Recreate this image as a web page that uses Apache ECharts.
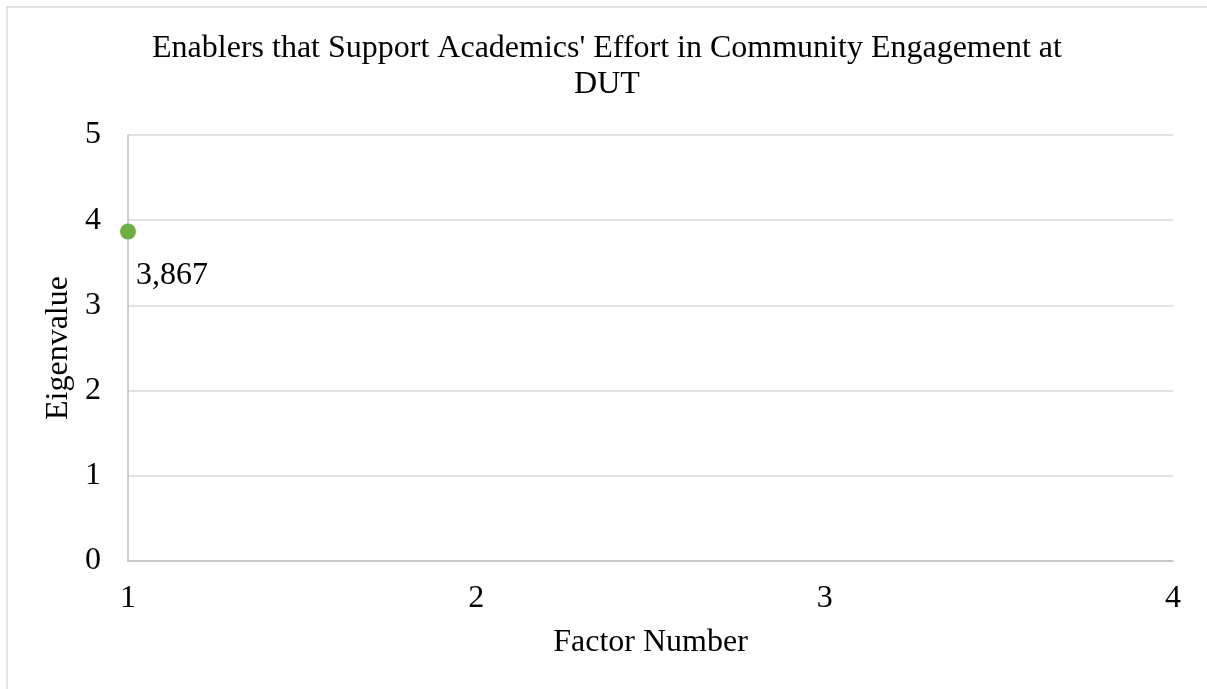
<!DOCTYPE html>
<html>
<head>
<meta charset="utf-8">
<title>Eigenvalue chart</title>
<script src="https://cdn.jsdelivr.net/npm/echarts@6/dist/echarts.min.js"></script>
<style>
  html, body { margin: 0; padding: 0; background: #fff; }
  #chart { width: 1207px; height: 689px; }
</style>
</head>
<body>
<div id="chart"></div>
<script>
// Scree data: factor numbers and their eigenvalues
const factorNumbers = [1];
const eigenvalues = [3.867];

// Axis ranges
const xRange = { min: 1, max: 4, step: 1 };
const yRange = { min: 0, max: 5, step: 1 };

const titleText = "Enablers that Support Academics' Effort in Community Engagement at\nDUT";
const xName = 'Factor Number';
const yName = 'Eigenvalue';

const serif = "'Liberation Serif', 'Times New Roman', Times, serif";
const textSize = 32;

const points = factorNumbers.map((f, i) => [f, eigenvalues[i]]);

const chart = echarts.init(document.getElementById('chart'), null, { renderer: 'canvas' });

chart.setOption({
  backgroundColor: '#ffffff',
  animation: false,
  graphic: [{
    type: 'rect',
    shape: { x: 7, y: 7, width: 1230, height: 720 },
    style: { fill: 'none', stroke: '#d9d9d9', lineWidth: 1.5 },
    silent: true,
    z: -1
  }],
  title: {
    text: titleText,
    left: 602,
    top: 26,
    textAlign: 'center',
    textStyle: {
      fontFamily: serif,
      fontSize: textSize,
      fontWeight: 'normal',
      color: '#000',
      lineHeight: 36
    }
  },
  grid: { left: 128, right: 34, top: 135, bottom: 128 },
  xAxis: {
    type: 'value',
    min: xRange.min,
    max: xRange.max,
    interval: xRange.step,
    name: xName,
    nameLocation: 'middle',
    nameGap: 66,
    nameTextStyle: { fontFamily: serif, fontSize: textSize, color: '#000' },
    axisLine: { show: true, lineStyle: { color: '#bfbfbf', width: 1.5 } },
    axisTick: { show: false },
    splitLine: { show: false },
    axisLabel: { fontFamily: serif, fontSize: textSize, color: '#000', margin: 22 }
  },
  yAxis: {
    type: 'value',
    min: yRange.min,
    max: yRange.max,
    interval: yRange.step,
    name: yName,
    nameLocation: 'middle',
    nameGap: 52,
    nameTextStyle: { fontFamily: serif, fontSize: textSize, color: '#000' },
    axisLine: { show: true, lineStyle: { color: '#bfbfbf', width: 1.5 } },
    axisTick: { show: false },
    splitLine: { show: true, lineStyle: { color: '#d9d9d9', width: 1.5 } },
    axisLabel: { fontFamily: serif, fontSize: textSize, color: '#000', margin: 27 }
  },
  series: [{
    type: 'scatter',
    data: points,
    symbol: 'circle',
    symbolSize: 16,
    clip: false,
    itemStyle: { color: '#70ad47', opacity: 1 },
    label: {
      show: true,
      position: [16, 36],
      fontFamily: serif,
      fontSize: textSize,
      color: '#000',
      formatter: p => String(p.value[1]).replace('.', ',')
    }
  }]
});
</script>
</body>
</html>
